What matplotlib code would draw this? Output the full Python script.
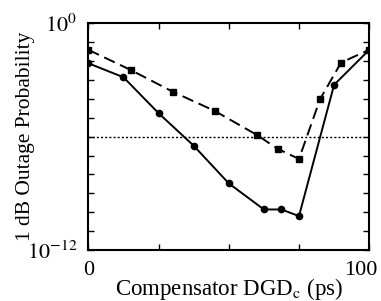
import numpy as np
import matplotlib
matplotlib.use("Agg")
import matplotlib.pyplot as plt
import matplotlib.transforms as mtransforms

plt.rcParams['font.family'] = ['Liberation Serif', 'DejaVu Serif']
plt.rcParams['mathtext.fontset'] = 'stix'

# solid curve (circles)
dgd_solid = [0, 12.5, 25, 37.5, 50, 62.5, 68.75, 75, 87.5, 100]
log_p_solid = [-2.12, -2.86, -4.76, -6.48, -8.47, -9.85, -9.85, -10.2, -3.26, -1.41]
# dashed curve (squares)
dgd_dashed = [0, 15, 30, 45, 60, 67.5, 75, 82.5, 90, 100]
log_p_dashed = [-1.41, -2.47, -3.62, -4.64, -5.91, -6.65, -7.18, -4.02, -2.08, -1.41]
# outage threshold
threshold = 1e-6

x_ticks = [0, 25, 50, 75, 100]
x_labels = ['0', '', '', '', '100']
y_exps = np.arange(-12, 1)

fig = plt.figure(figsize=(3.81, 3.01), dpi=100)
ax = fig.add_axes([0.232, 0.169, 0.737, 0.754])

ax.plot(dgd_solid, 10.0 ** np.array(log_p_solid), '-', color='black',
        lw=1.4, marker='o', ms=4.5)
ax.plot(dgd_dashed, 10.0 ** np.array(log_p_dashed), color='black',
        lw=1.4, ls=(0, (6, 3)), marker='s', ms=4.5)
ax.axhline(threshold, color='black', lw=1.0, ls=(0, (1.5, 1.5)))

ax.set_yscale('log')
ax.set_xlim(0, 100)
ax.set_ylim(1e-12, 1e0)

ax.set_xticks(x_ticks)
ax.set_xticklabels(x_labels)
ax.set_yticks(10.0 ** y_exps)
ax.set_yticklabels([r'$10^{%d}$' % e if e in (0, -12) else '' for e in y_exps])
ax.yaxis.set_minor_locator(matplotlib.ticker.NullLocator())
ax.tick_params(direction='in', top=True, right=True, length=4, width=1,
               labelsize=16, pad=8)

# pull the "100" label back inside the figure
lbl = ax.get_xticklabels()[-1]
lbl.set_transform(lbl.get_transform() +
                  mtransforms.ScaledTranslation(-8 / 100, 0, fig.dpi_scale_trans))

for s in ax.spines.values():
    s.set_linewidth(1.5)

ax.set_xlabel(r'Compensator DGD$_{\rm c}$ (ps)', fontsize=16.5, labelpad=-3)
ax.set_ylabel('1 dB Outage Probability', fontsize=15.5, labelpad=-6)

fig.savefig('out.png', dpi=100)
